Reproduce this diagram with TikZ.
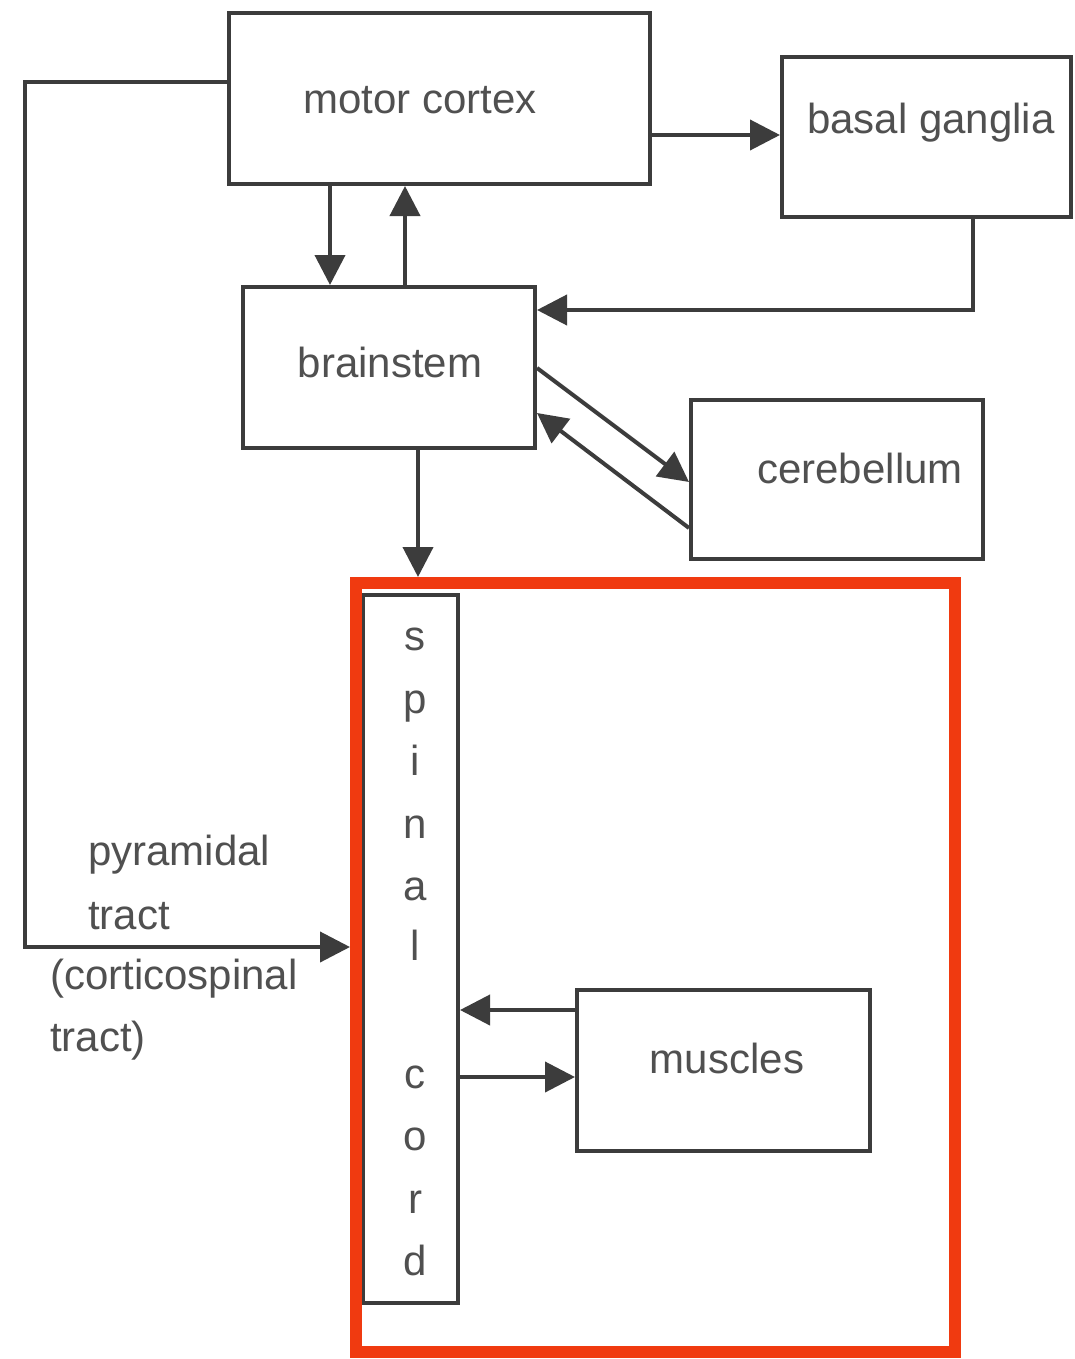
\documentclass[tikz,border=0pt]{standalone}
\usepackage{fontspec}
\setmainfont{Liberation Sans}
\usetikzlibrary{arrows.meta}
\definecolor{linec}{HTML}{3C3C3C}
\definecolor{textc}{HTML}{505050}
\definecolor{redc}{HTML}{F03A10}
\begin{document}
\begin{tikzpicture}[x=1pt,y=-1pt,
  box/.style={draw=linec, line width=4pt, rectangle, inner sep=0pt},
  lbl/.style={text=textc, font=\fontsize{42}{50}\selectfont, inner sep=0pt},
  conn/.style={draw=linec, line width=4pt, -{Triangle[length=30pt,width=30pt]}},
  plain/.style={draw=linec, line width=4pt}
]
\useasboundingbox[fill=white] (0,0) rectangle (1074,1359);

% boxes
\node[box, minimum width=421pt, minimum height=171pt] (mc) at (439.5,98.5) {};
\node[box, minimum width=289pt, minimum height=160pt] (bg) at (926.5,137) {};
\node[box, minimum width=292pt, minimum height=161pt] (bs) at (389,367.5) {};
\node[box, minimum width=292pt, minimum height=159pt] (cb) at (837,479.5) {};
\node[box, minimum width=95pt, minimum height=708pt] (sc) at (410.5,949) {};
\node[box, minimum width=293pt, minimum height=161pt] (mu) at (723.5,1070.5) {};
\node[draw=redc, line width=12pt, rectangle, inner sep=0pt, minimum width=599pt, minimum height=769pt] (rc) at (655.5,967.5) {};

% labels
\node[lbl] (tmc) at (420,100) {motor cortex};
\node[lbl] (tbg) at (931,123) {basal ganglia};
\node[lbl] (tbs) at (390,362) {brainstem};
\node[lbl] (tcb) at (860,468) {cerebellum};
\node[lbl] (tmu) at (727,1058) {muscles};
\node[lbl, anchor=west] (tp1) at (88,855) {pyramidal};
\node[lbl, anchor=west] (tp2) at (88,916) {tract};
\node[lbl, anchor=west] (tp3) at (50,979) {(corticospinal};
\node[lbl, anchor=west] (tp4) at (50,1041) {tract)};
\foreach \ch/\yy [count=\i] in {s/640, p/703, i/765, n/828, a/890, l/950, c/1078, o/1140, r/1203, d/1265}
  \node[lbl] (sp\i) at (415,\yy) {\ch\vphantom{dp}};

% helper coordinates
\coordinate (y82) at (0,82);
\coordinate (y135) at (0,135);
\coordinate (y310) at (0,310);
\coordinate (y368) at (0,368);
\coordinate (y482) at (0,482);
\coordinate (y528) at (0,528);
\coordinate (y413) at (0,413);
\coordinate (y947) at (0,947);
\coordinate (y1010) at (0,1010);
\coordinate (y1077) at (0,1077);
\coordinate (x330) at (330,0);
\coordinate (x405) at (405,0);
\coordinate (x418) at (418,0);
\coordinate (x973) at (973,0);
\coordinate (c1) at (25,82);
\coordinate (c2) at (25,947);
\coordinate (c3) at (973,310);

% connectors
\draw[conn] (mc.west |- y82) -- (c1) -- (c2) -- (rc.west |- y947);
\draw[conn] (mc.east |- y135) -- (bg.west |- y135);
\draw[conn] (mc.south -| x330) -- (bs.north -| x330);
\draw[conn] (bs.north -| x405) -- (mc.south -| x405);
\draw[conn] (bg.south -| x973) -- (c3) -- (bs.east |- y310);
\draw[conn] (bs.east |- y368) -- (cb.west |- y482);
\draw[conn] (cb.west |- y528) -- (bs.east |- y413);
\draw[conn] (bs.south -| x418) -- (rc.north -| x418);
\draw[conn] (mu.west |- y1010) -- (sc.east |- y1010);
\draw[conn] (sc.east |- y1077) -- (mu.west |- y1077);
\end{tikzpicture}
\end{document}
